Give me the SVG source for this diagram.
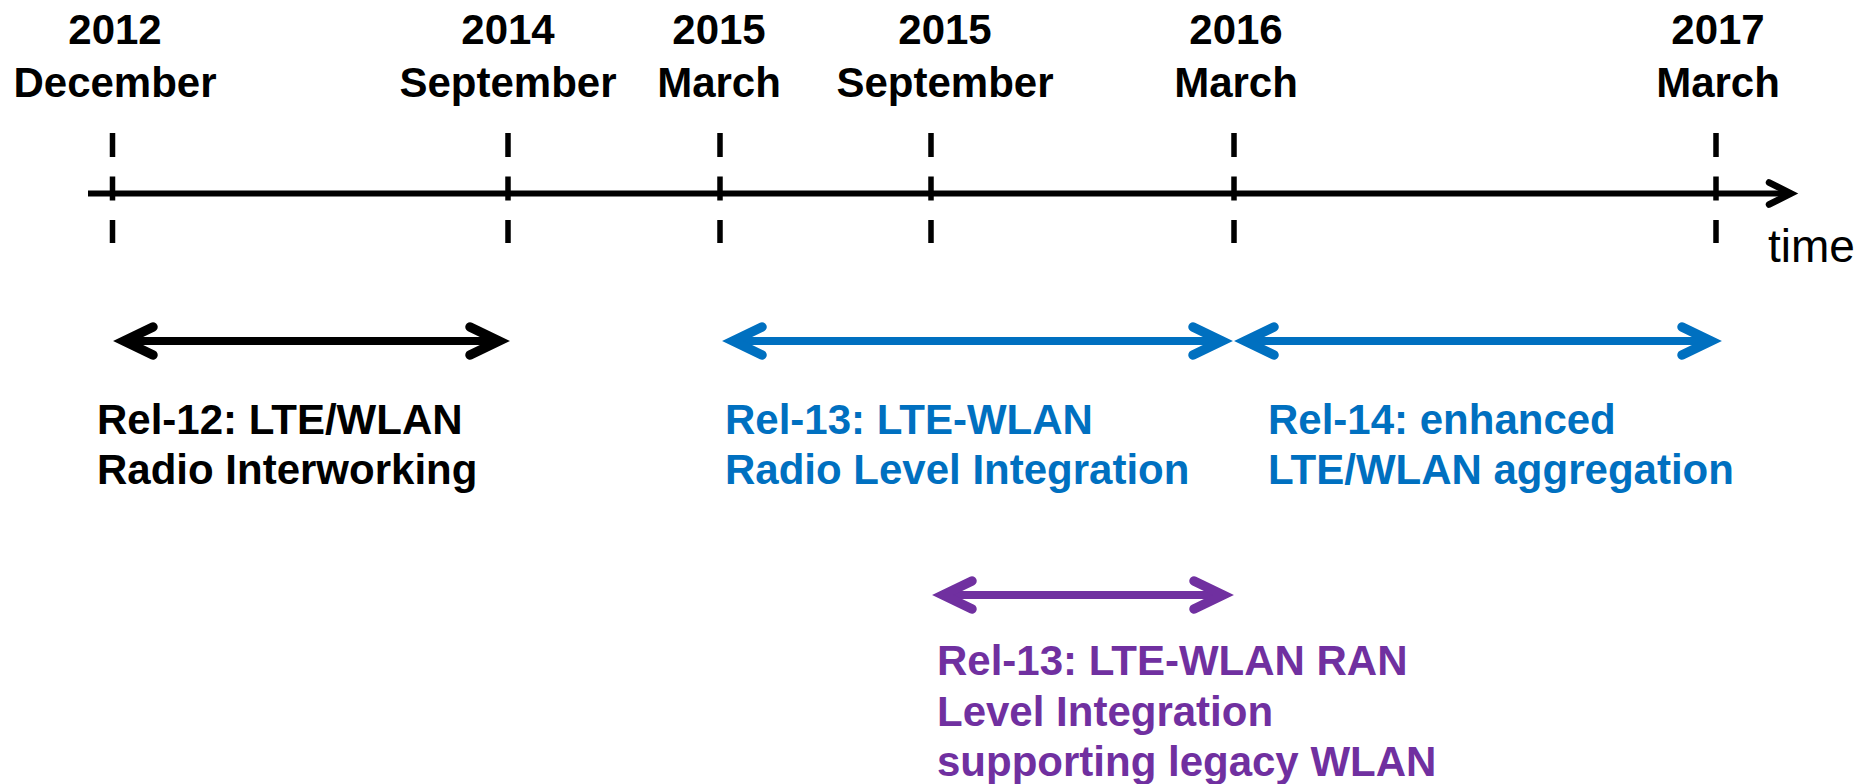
<svg xmlns="http://www.w3.org/2000/svg" width="1860" height="784" viewBox="0 0 1860 784">
  <style>
    .lbl { font-family: "Liberation Sans", Arial, sans-serif; font-weight: bold; font-size: 42px; }
    .date { text-anchor: middle; fill: #000; }
    .k { fill: #000; }
    .b { fill: #0070C0; }
    .p { fill: #7030A0; }
    .tick { stroke: #000; stroke-width: 5.5; stroke-dasharray: 24 19.5; }
    .axis { stroke: #000; stroke-width: 6; fill: none; }
    .span { stroke-width: 8; fill: none; }
  </style>
  <defs>
    <marker id="axisHead" viewBox="-30 -16 36 32" refX="0" refY="0" markerWidth="36" markerHeight="32" markerUnits="userSpaceOnUse" orient="auto" overflow="visible">
      <path d="M-22,-11 L0,0 L-22,11" fill="none" stroke="#000" stroke-width="6.5" stroke-linecap="round"/>
    </marker>
    <marker id="headK" viewBox="-40 -22 48 44" refX="0" refY="0" markerWidth="48" markerHeight="44" markerUnits="userSpaceOnUse" orient="auto-start-reverse" overflow="visible">
      <path d="M-29,-14 L0,0 L-29,14" fill="none" stroke="#000" stroke-width="9.5" stroke-linecap="round"/>
    </marker>
    <marker id="headB" viewBox="-40 -22 48 44" refX="0" refY="0" markerWidth="48" markerHeight="44" markerUnits="userSpaceOnUse" orient="auto-start-reverse" overflow="visible">
      <path d="M-29,-14 L0,0 L-29,14" fill="none" stroke="#0070C0" stroke-width="9.5" stroke-linecap="round"/>
    </marker>
    <marker id="headP" viewBox="-40 -22 48 44" refX="0" refY="0" markerWidth="48" markerHeight="44" markerUnits="userSpaceOnUse" orient="auto-start-reverse" overflow="visible">
      <path d="M-29,-14 L0,0 L-29,14" fill="none" stroke="#7030A0" stroke-width="9.5" stroke-linecap="round"/>
    </marker>
  </defs>

  <rect width="1860" height="784" fill="#fff"/>

  <!-- time axis with dashed milestone ticks -->
  <g id="axis">
    <line class="axis" x1="88" y1="193.5" x2="1791" y2="193.5" marker-end="url(#axisHead)"/>
    <line class="tick" x1="112.5" y1="133" x2="112.5" y2="243"/>
    <line class="tick" x1="508" y1="133" x2="508" y2="243"/>
    <line class="tick" x1="720" y1="133" x2="720" y2="243"/>
    <line class="tick" x1="931" y1="133" x2="931" y2="243"/>
    <line class="tick" x1="1234" y1="133" x2="1234" y2="243"/>
    <line class="tick" x1="1716" y1="133" x2="1716" y2="243"/>
    <text x="1768" y="262" font-family="Liberation Sans, Arial, sans-serif" font-size="46">time</text>
  </g>

  <!-- milestone dates -->
  <g id="date-2012-dec" class="lbl date"><text x="115" y="44">2012</text><text x="115" y="97">December</text></g>
  <g id="date-2014-sep" class="lbl date"><text x="508" y="44">2014</text><text x="508" y="97">September</text></g>
  <g id="date-2015-mar" class="lbl date"><text x="719" y="44">2015</text><text x="719" y="97">March</text></g>
  <g id="date-2015-sep" class="lbl date"><text x="945" y="44">2015</text><text x="945" y="97">September</text></g>
  <g id="date-2016-mar" class="lbl date"><text x="1236" y="44">2016</text><text x="1236" y="97">March</text></g>
  <g id="date-2017-mar" class="lbl date"><text x="1718" y="44">2017</text><text x="1718" y="97">March</text></g>

  <!-- release spans -->
  <g id="connectors">
    <line class="span" stroke="#000" x1="124" y1="341" x2="499" y2="341" marker-start="url(#headK)" marker-end="url(#headK)"/>
    <line class="span" stroke="#0070C0" x1="733" y1="341" x2="1222" y2="341" marker-start="url(#headB)" marker-end="url(#headB)"/>
    <line class="span" stroke="#0070C0" x1="1245" y1="341" x2="1711" y2="341" marker-start="url(#headB)" marker-end="url(#headB)"/>
    <line class="span" stroke="#7030A0" x1="943" y1="595" x2="1223" y2="595" marker-start="url(#headP)" marker-end="url(#headP)"/>
  </g>

  <!-- release descriptions -->
  <g id="rel12" class="lbl k">
    <text x="97" y="434">Rel-12: LTE/WLAN</text>
    <text x="97" y="484">Radio Interworking</text>
  </g>
  <g id="rel13" class="lbl b">
    <text x="725" y="434">Rel-13: LTE-WLAN</text>
    <text x="725" y="484">Radio Level Integration</text>
  </g>
  <g id="rel14" class="lbl b">
    <text x="1268" y="434">Rel-14: enhanced</text>
    <text x="1268" y="484">LTE/WLAN aggregation</text>
  </g>
  <g id="rel13-legacy" class="lbl p">
    <text x="937" y="675">Rel-13: LTE-WLAN RAN</text>
    <text x="937" y="726">Level Integration</text>
    <text x="937" y="776">supporting legacy WLAN</text>
  </g>
</svg>
